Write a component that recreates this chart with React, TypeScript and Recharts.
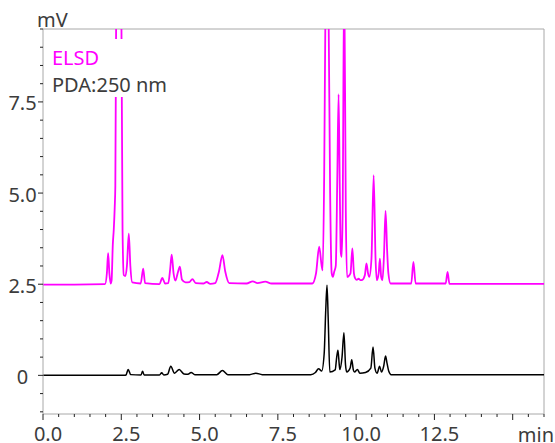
import React from 'react';
import { LineChart, Line, XAxis, YAxis, ReferenceLine } from 'recharts';

// ELSD trace (mV)
const elsdTime = [
  0, 1.0, 1.98, 2.04, 2.08, 2.12, 2.16, 2.19, 2.23, 2.26, 2.29, 2.31, 2.34, 2.42, 2.5, 2.54, 2.58,
  2.63, 2.68, 2.74, 2.79, 2.85, 3.12, 3.2, 3.26, 3.72, 3.81, 3.9, 4.0, 4.06, 4.11, 4.17, 4.23,
  4.3, 4.37, 4.44, 4.55, 4.68, 4.77, 4.88, 5.12, 5.23, 5.34, 5.5, 5.62, 5.73, 5.82, 5.95, 6.5,
  6.7, 6.85, 7.1, 7.3, 8.6, 8.72, 8.82, 8.9, 8.93, 8.98, 9.02, 9.07, 9.12, 9.17, 9.22, 9.26,
  9.3, 9.35, 9.4, 9.44, 9.48, 9.51, 9.54, 9.57, 9.62, 9.67, 9.71, 9.82, 9.88, 9.93, 9.97, 10.02,
  10.08, 10.14, 10.2, 10.28, 10.33, 10.38, 10.42, 10.49, 10.56, 10.62, 10.66, 10.72, 10.76, 10.8,
  10.84, 10.89, 10.94, 10.99, 11.03, 11.1, 11.76, 11.83, 11.9, 12.86, 12.92, 12.98, 14.5, 16,
];
const elsdValue = [
  2.49, 2.49, 2.5, 2.8, 3.35, 2.8, 2.52, 2.6, 3.6, 4.0, 4.6, 5.2, 10.5, 14, 10.5, 4.0, 2.75,
  2.72, 3.0, 3.89, 3.0, 2.55, 2.52, 2.93, 2.53, 2.5, 2.67, 2.52, 2.53, 2.9, 3.31, 2.8, 2.6,
  2.8, 2.98, 2.62, 2.55, 2.56, 2.64, 2.53, 2.52, 2.56, 2.51, 2.53, 2.85, 3.3, 2.85, 2.53, 2.52,
  2.58, 2.53, 2.57, 2.52, 2.52, 2.8, 3.53, 3.0, 2.88, 5.5, 10, 12, 10, 5, 2.8, 2.7,
  2.84, 3.0, 5.5, 7.71, 5.0, 3.37, 3.25, 4.5, 11, 4.5, 2.7, 2.8, 3.48, 2.8, 2.66, 2.62,
  2.65, 2.61, 2.62, 2.75, 3.07, 2.8, 2.7, 3.2, 5.49, 3.2, 2.61, 2.8, 3.2, 2.7,
  2.61, 3.3, 4.51, 3.43, 2.8, 2.52, 2.52, 3.11, 2.52, 2.52, 2.84, 2.51, 2.51, 2.51,
];

// PDA 250 nm trace (mV)
const pdaTime = [
  0, 2.6, 2.65, 2.72, 2.8, 3.13, 3.18, 3.23, 3.72, 3.79, 3.86, 3.98, 4.08, 4.2, 4.35, 4.5, 4.63,
  4.73, 4.85, 5.55, 5.73, 5.9, 6.6, 6.8, 7.0, 8.55, 8.7, 8.8, 8.9, 8.98, 9.03, 9.07, 9.11, 9.16,
  9.33, 9.38, 9.42, 9.46, 9.48, 9.55, 9.61, 9.66, 9.7, 9.81, 9.86, 9.91, 9.95, 10.04, 10.12, 10.3,
  10.47, 10.54, 10.6, 10.67, 10.75, 10.81, 10.88, 10.94, 10.99, 11.04, 11.12, 16,
];
const pdaValue = [
  0.0, 0.0, 0.01, 0.16, 0.02, 0.01, 0.11, 0.01, 0.01, 0.07, 0.01, 0.03, 0.25, 0.06, 0.16, 0.04, 0.03,
  0.08, 0.02, 0.02, 0.13, 0.02, 0.02, 0.06, 0.02, 0.02, 0.08, 0.18, 0.12, 0.6, 1.8, 2.47, 1.5, 0.09,
  0.15, 0.5, 0.69, 0.3, 0.16, 0.5, 1.17, 0.3, 0.09, 0.2, 0.43, 0.15, 0.09, 0.16, 0.06, 0.08,
  0.2, 0.78, 0.2, 0.06, 0.25, 0.09, 0.25, 0.53, 0.32, 0.12, 0.02, 0.02,
];

const xTicks: number[] = [0, 0.5, 1, 1.5, 2, 2.5, 3, 3.5, 4, 4.5, 5, 5.5, 6, 6.5, 7, 7.5, 8, 8.5, 9, 9.5, 10, 10.5, 11, 11.5, 12, 12.5, 13, 13.5, 14, 14.5, 15, 15.5, 16];
const xMajor: number[] = [0, 2.5, 5, 7.5, 10, 12.5];
const xMajorLabels: string[] = ['0.0', '2.5', '5.0', '7.5', '10.0', '12.5'];
const xMajorNoLabel: number[] = [15];
const yTicks: number[] = [-1, -0.5, 0, 0.5, 1, 1.5, 2, 2.5, 3, 3.5, 4, 4.5, 5, 5.5, 6, 6.5, 7, 7.5, 8, 8.5, 9, 9.5];
const yMajor: number[] = [0, 2.5, 5, 7.5];
const yMajorLabels: string[] = ['0', '2.5', '5.0', '7.5'];

const elsdData = elsdTime.map((t, i) => ({ t, v: elsdValue[i] }));
const pdaData = pdaTime.map((t, i) => ({ t, v: pdaValue[i] }));

const FONT = "'Noto Sans', 'Open Sans', sans-serif";
const TEXT = '#3c3c3c';

const XTick = (props: any) => {
  const { x, y, payload } = props;
  const val = payload.value as number;
  const mi = xMajor.indexOf(val);
  const major = mi >= 0 || xMajorNoLabel.indexOf(val) >= 0;
  return (
    <g>
      <line x1={x} x2={x} y1={y} y2={y + (major ? 6 : 3)} stroke="#222" strokeWidth={1} />
      {mi >= 0 && (
        <text x={x + 5} y={y + 27.4} textAnchor="middle" fontSize={20} fontFamily={FONT} fill={TEXT}>
          {xMajorLabels[mi]}
        </text>
      )}
    </g>
  );
};

const YTick = (props: any) => {
  const { x, y, payload } = props;
  const val = payload.value as number;
  const mi = yMajor.indexOf(val);
  const major = mi >= 0;
  return (
    <g>
      <line x1={x} x2={x - (major ? 5 : 3)} y1={y} y2={y} stroke="#222" strokeWidth={1} />
      {major && (
        <text x={22.5} y={y + 8.5} textAnchor="middle" fontSize={20} fontFamily={FONT} fill={TEXT}>
          {yMajorLabels[mi]}
        </text>
      )}
    </g>
  );
};

export default function App() {
  return (
    <div style={{ position: 'absolute', left: 0, top: 0, width: 555, height: 443, background: '#fff' }}>
      <LineChart width={555} height={443} data={elsdData} margin={{ top: 29, right: 11, bottom: 0, left: 0 }}>
        <XAxis
          dataKey="t"
          type="number"
          domain={[0, 16]}
          ticks={xTicks}
          interval={0}
          tickSize={0}
          tickMargin={0}
          tickLine={false}
          tick={<XTick />}
          axisLine={{ stroke: '#a8a8a8' }}
          height={29}
          allowDataOverflow
        />
        <YAxis
          dataKey="v"
          type="number"
          domain={[-1.06, 9.5]}
          ticks={yTicks}
          interval={0}
          tickSize={0}
          tickMargin={0}
          tickLine={false}
          tick={<YTick />}
          axisLine={{ stroke: '#a8a8a8' }}
          width={43}
          allowDataOverflow
        />
        <ReferenceLine y={9.5} stroke="#a8a8a8" strokeWidth={1} />
        <ReferenceLine x={16} stroke="#a8a8a8" strokeWidth={1} />
        <Line
          data={pdaData}
          dataKey="v"
          type="monotone"
          stroke="#000000"
          strokeWidth={1.5}
          dot={false}
          activeDot={false}
          isAnimationActive={false}
        />
        <Line
          data={elsdData}
          dataKey="v"
          type="monotone"
          stroke="#ff00ff"
          strokeWidth={1.8}
          dot={false}
          activeDot={false}
          isAnimationActive={false}
        />
      </LineChart>
      <svg width={555} height={443} style={{ position: 'absolute', left: 0, top: 0, pointerEvents: 'none' }}>
        <rect x={46} y={39} width={126} height={58} fill="#ffffff" />
        <text x={52} y={65} fontSize={20} fontFamily={FONT} fill="#ff00ff">ELSD</text>
        <text x={52} y={91.7} fontSize={20} fontFamily={FONT} fill={TEXT}>PDA:250 nm</text>
        <text x={37} y={26.7} fontSize={20} fontFamily={FONT} fill={TEXT}>mV</text>
        <text x={554} y={441.7} textAnchor="end" fontSize={20} fontFamily={FONT} fill={TEXT}>min</text>
      </svg>
    </div>
  );
}
